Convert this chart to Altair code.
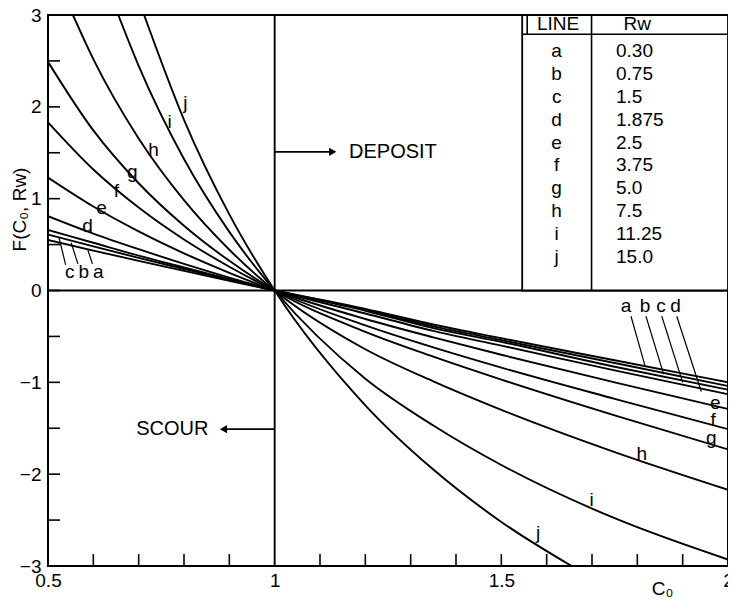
import altair as alt
import pandas as pd

FONT = "Liberation Sans, Arial, Helvetica, sans-serif"

# ---- curve values: F(C0, Rw) ----
GRID_C0 = [0.5, 0.6, 0.7, 0.8, 0.9, 1.0, 1.2, 1.35, 1.5, 1.75, 2.0]
F_A = [0.55, 0.435, 0.323, 0.214, 0.106, 0.0, -0.20, -0.37, -0.52, -0.76, -1.00]
F_B = [0.61, 0.48, 0.355, 0.234, 0.115, 0.0, -0.21, -0.39, -0.54, -0.79, -1.04]
F_C = [0.66, 0.52, 0.38, 0.25, 0.123, 0.0, -0.22, -0.41, -0.56, -0.83, -1.08]
F_D = [0.81, 0.62, 0.45, 0.29, 0.14, 0.0, -0.25, -0.44, -0.60, -0.87, -1.13]
F_E = [1.23, 0.915, 0.644, 0.405, 0.193, 0.0, -0.31, -0.51, -0.70, -1.00, -1.29]
F_F = [1.83, 1.317, 0.903, 0.555, 0.259, 0.0, -0.38, -0.62, -0.84, -1.18, -1.51]
F_G = [2.49, 1.743, 1.168, 0.705, 0.323, 0.0, -0.45, -0.72, -0.97, -1.36, -1.73]
H_C0 = [0.555, 0.6, 0.7, 0.8, 0.9, 1.0, 1.2, 1.35, 1.5, 1.75, 2.0]
F_H = [3.0, 2.52, 1.656, 0.984, 0.444, 0.0, -0.64, -0.99, -1.30, -1.76, -2.17]
I_C0 = [0.655, 0.7, 0.8, 0.9, 1.0, 1.2, 1.35, 1.5, 1.75, 2.0]
F_I = [3.0, 2.446, 1.432, 0.638, 0.0, -0.96, -1.47, -1.90, -2.48, -2.93]
J_C0 = [0.712, 0.8, 0.9, 1.0, 1.2, 1.35, 1.5, 1.655]
F_J = [3.0, 1.859, 0.829, 0.0, -1.25, -1.95, -2.52, -3.0]

# ---- table ----
LINE_NAMES = ["a", "b", "c", "d", "e", "f", "g", "h", "i", "j"]
RW_VALUES = ["0.30", "0.75", "1.5", "1.875", "2.5", "3.75", "5.0", "7.5", "11.25", "15.0"]
ROW_Y = [2.61, 2.36, 2.11, 1.86, 1.61, 1.37, 1.12, 0.87, 0.62, 0.37]

# ---- curve labels ----
LABEL_TEXT = ["j", "i", "h", "g", "f", "e", "d", "c", "b", "a",
              "a", "b", "c", "d", "e", "f", "g", "h", "i", "j"]
LABEL_X = [0.803, 0.768, 0.733, 0.686, 0.651, 0.618, 0.587, 0.548, 0.579, 0.611,
           1.775, 1.817, 1.852, 1.884, 1.972, 1.967, 1.963, 1.810, 1.699, 1.581]
LABEL_Y = [2.04, 1.83, 1.53, 1.29, 1.08, 0.90, 0.70, 0.205, 0.205, 0.205,
           -0.17, -0.17, -0.17, -0.17, -1.23, -1.41, -1.61, -1.78, -2.28, -2.64]

# leader lines (label -> curve)
LEAD_X1 = [0.539, 0.566, 0.598, 1.786, 1.819, 1.854, 1.887]
LEAD_Y1 = [0.28, 0.29, 0.29, -0.28, -0.28, -0.28, -0.28]
LEAD_X2 = [0.524, 0.551, 0.588, 1.817, 1.858, 1.900, 1.941]
LEAD_Y2 = [0.58, 0.52, 0.44, -0.82, -0.91, -1.00, -1.10]

# minor ticks
TICK_Y = [-2.5, -2.0, -1.5, -1.0, -0.5, 0.0, 0.5, 1.0, 1.5, 2.0, 2.5]
TICK_X = [0.6, 0.7, 0.8, 0.9, 1.1, 1.2, 1.3, 1.4, 1.5, 1.6, 1.7, 1.8, 1.9]

XS = alt.Scale(domain=[0.5, 2.0], nice=False, zero=False)
YS = alt.Scale(domain=[-3.0, 3.0], nice=False, zero=False)

rows = []
for name, xs, ys in [("a", GRID_C0, F_A), ("b", GRID_C0, F_B), ("c", GRID_C0, F_C),
                     ("d", GRID_C0, F_D), ("e", GRID_C0, F_E), ("f", GRID_C0, F_F),
                     ("g", GRID_C0, F_G), ("h", H_C0, F_H), ("i", I_C0, F_I),
                     ("j", J_C0, F_J)]:
    for xv, yv in zip(xs, ys):
        rows.append({"line": name, "x": xv, "y": yv})
curve_df = pd.DataFrame(rows)

x_axis = alt.Axis(values=[0.5, 1, 1.5, 2], format=".2~f", title="C₀", ticks=False,
                  domain=False, grid=False, labelFlush=False, labelOverlap=False,
                  labelPadding=5, labelFontSize=19, labelFont=FONT, labelColor="black",
                  titleFont=FONT, titleFontSize=19, titleFontWeight="normal",
                  titleColor="black", titleX=614, titleY=22, titleBaseline="middle",
                  titleAlign="center")
y_axis = alt.Axis(values=[-3, -2, -1, 0, 1, 2, 3], format="d", title="F(C₀, Rw)",
                  ticks=False, domain=False, grid=False, labelOverlap=False,
                  labelPadding=7, labelFontSize=19, labelFont=FONT, labelColor="black",
                  titleFont=FONT, titleFontSize=19, titleFontWeight="normal",
                  titleColor="black", titleAngle=270, titleX=-29, titleY=194,
                  titleBaseline="middle", titleAlign="center")

curves = alt.Chart(curve_df).mark_line(
    color="black", strokeWidth=1.9, interpolate="monotone", clip=True
).encode(
    x=alt.X("x:Q", scale=XS, axis=x_axis),
    y=alt.Y("y:Q", scale=YS, axis=y_axis),
    detail="line:N",
)

# reference lines at F=0 and C0=1
hz = alt.Chart(pd.DataFrame({"x": [0.5], "x2": [2.0], "y": [0.0]})).mark_rule(
    color="black", strokeWidth=1.9).encode(
    x=alt.X("x:Q", scale=XS), x2="x2:Q", y=alt.Y("y:Q", scale=YS))
vt = alt.Chart(pd.DataFrame({"x": [1.0], "y": [-3.0], "y2": [3.0]})).mark_rule(
    color="black", strokeWidth=1.9).encode(
    x=alt.X("x:Q", scale=XS), y=alt.Y("y:Q", scale=YS), y2="y2:Q")

# inward ticks
ytick_df = pd.DataFrame({"y": TICK_Y, "x": [0.5] * len(TICK_Y), "x2": [0.5265] * len(TICK_Y)})
yticks = alt.Chart(ytick_df).mark_rule(color="black", strokeWidth=1.6).encode(
    x=alt.X("x:Q", scale=XS), x2="x2:Q", y=alt.Y("y:Q", scale=YS))
xtick_df = pd.DataFrame({"x": TICK_X, "y": [-3.0] * len(TICK_X), "y2": [-2.869] * len(TICK_X)})
xticks = alt.Chart(xtick_df).mark_rule(color="black", strokeWidth=1.6).encode(
    x=alt.X("x:Q", scale=XS), y=alt.Y("y:Q", scale=YS), y2="y2:Q")

# curve labels
lab_df = pd.DataFrame({"t": LABEL_TEXT, "x": LABEL_X, "y": LABEL_Y})
labels = alt.Chart(lab_df).mark_text(font=FONT, fontSize=19, color="black",
                                     align="center", baseline="middle").encode(
    x=alt.X("x:Q", scale=XS), y=alt.Y("y:Q", scale=YS), text="t:N")

lead_df = pd.DataFrame({"x": LEAD_X1, "y": LEAD_Y1, "x2": LEAD_X2, "y2": LEAD_Y2})
leaders = alt.Chart(lead_df).mark_rule(color="black", strokeWidth=1.2).encode(
    x=alt.X("x:Q", scale=XS), y=alt.Y("y:Q", scale=YS), x2="x2:Q", y2="y2:Q")

# arrows DEPOSIT / SCOUR
arr_df = pd.DataFrame({"x": [1.0, 1.0], "x2": [1.13, 0.885], "y": [1.51, -1.51]})
arrows = alt.Chart(arr_df).mark_rule(color="black", strokeWidth=1.6).encode(
    x=alt.X("x:Q", scale=XS), x2="x2:Q", y=alt.Y("y:Q", scale=YS))
head_r = alt.Chart(pd.DataFrame({"x": [1.128], "y": [1.51]})).mark_point(
    shape="triangle-right", filled=True, color="black", size=70, opacity=1).encode(
    x=alt.X("x:Q", scale=XS), y=alt.Y("y:Q", scale=YS))
head_l = alt.Chart(pd.DataFrame({"x": [0.887], "y": [-1.51]})).mark_point(
    shape="triangle-left", filled=True, color="black", size=70, opacity=1).encode(
    x=alt.X("x:Q", scale=XS), y=alt.Y("y:Q", scale=YS))
dep_txt = alt.Chart(pd.DataFrame({"x": [1.164], "y": [1.51], "t": ["DEPOSIT"]})).mark_text(
    font=FONT, fontSize=20, color="black", align="left", baseline="middle").encode(
    x=alt.X("x:Q", scale=XS), y=alt.Y("y:Q", scale=YS), text="t:N")
scr_txt = alt.Chart(pd.DataFrame({"x": [0.854], "y": [-1.51], "t": ["SCOUR"]})).mark_text(
    font=FONT, fontSize=20, color="black", align="right", baseline="middle").encode(
    x=alt.X("x:Q", scale=XS), y=alt.Y("y:Q", scale=YS), text="t:N")

# table
tbl_box = alt.Chart(pd.DataFrame({"x": [1.546], "x2": [2.0], "y": [0.0], "y2": [3.0]})).mark_rect(
    fill="white", stroke="black", strokeWidth=1.8).encode(
    x=alt.X("x:Q", scale=XS), x2="x2:Q", y=alt.Y("y:Q", scale=YS), y2="y2:Q")
tbl_v = alt.Chart(pd.DataFrame({"x": [1.699, 1.557], "y": [0.0, 2.79], "y2": [3.0, 3.0]})).mark_rule(
    color="black", strokeWidth=1.6).encode(
    x=alt.X("x:Q", scale=XS), y=alt.Y("y:Q", scale=YS), y2="y2:Q")
tbl_h = alt.Chart(pd.DataFrame({"x": [1.546], "x2": [2.0], "y": [2.79]})).mark_rule(
    color="black", strokeWidth=1.6).encode(
    x=alt.X("x:Q", scale=XS), x2="x2:Q", y=alt.Y("y:Q", scale=YS))
hdr = alt.Chart(pd.DataFrame({"x": [1.625, 1.80], "y": [2.90, 2.90], "t": ["LINE", "Rw"]})).mark_text(
    font=FONT, fontSize=19, color="black", align="center", baseline="middle").encode(
    x=alt.X("x:Q", scale=XS), y=alt.Y("y:Q", scale=YS), text="t:N")
col1 = alt.Chart(pd.DataFrame({"x": [1.622] * 10, "y": ROW_Y, "t": LINE_NAMES})).mark_text(
    font=FONT, fontSize=19, color="black", align="center", baseline="middle").encode(
    x=alt.X("x:Q", scale=XS), y=alt.Y("y:Q", scale=YS), text="t:N")
col2 = alt.Chart(pd.DataFrame({"x": [1.753] * 10, "y": ROW_Y, "t": RW_VALUES})).mark_text(
    font=FONT, fontSize=19, color="black", align="left", baseline="middle").encode(
    x=alt.X("x:Q", scale=XS), y=alt.Y("y:Q", scale=YS), text="t:N")

chart = alt.layer(
    curves, hz, vt, yticks, xticks, leaders, labels, arrows, head_r, head_l,
    dep_txt, scr_txt, tbl_box, tbl_v, tbl_h, hdr, col1, col2
).properties(
    width=680, height=551,
    padding={"left": 40, "top": 7, "right": 0, "bottom": 32},
    autosize=alt.AutoSizeParams(type="none"),
    background="white",
).configure_view(stroke="black", strokeWidth=2)

chart.save("out.html", embed_options={"renderer": "svg", "actions": False})
